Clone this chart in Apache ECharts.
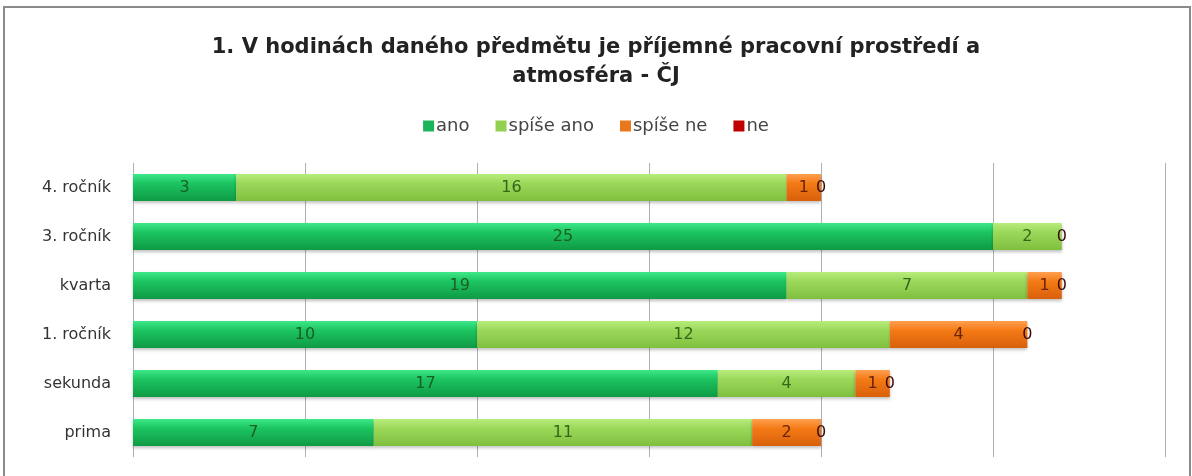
<!DOCTYPE html>
<html><head><meta charset="utf-8">
<script src="https://cdn.jsdelivr.net/npm/echarts@6/dist/echarts.min.js"></script>
<style>html,body{margin:0;padding:0;background:#fff}#c{width:1192px;height:476px}</style>
</head><body><div id="c"></div>
<script>
const categories = ['prima', 'sekunda', '1. ročník', 'kvarta', '3. ročník', '4. ročník'];
const ano       = [7, 17, 10, 19, 25, 3];
const spiseAno  = [11, 4, 12, 7, 2, 16];
const spiseNe   = [2, 1, 4, 1, null, 1];
const ne        = [0, 0, 0, 0, 0, 0];
const seriesNames = ['ano', 'spíše ano', 'spíše ne', 'ne'];

function grad(top, mid, bot) {
  return new echarts.graphic.LinearGradient(0, 0, 0, 1, [
    {offset: 0, color: top}, {offset: 0.35, color: mid}, {offset: 1, color: bot}
  ]);
}
const styles = [
  {c: grad('#3ee88a', '#1cc460', '#0f9a45'), lc: '#1b5e24', leg: '#1cb45a'},
  {c: grad('#b8ec7c', '#9bd85a', '#7fbf3e'), lc: '#35661a', leg: '#92d050'},
  {c: grad('#ffa050', '#f47a16', '#d8600a'), lc: '#6a2406', leg: '#e8781c'},
  {c: grad('#e84040', '#c81010', '#a00000'), lc: '#3a0a0a', leg: '#c00000'}
];
const dataSets = [ano, spiseAno, spiseNe, ne];
const FONT = '"DejaVu Sans", "Open Sans", sans-serif';

const chart = echarts.init(document.getElementById('c'));
chart.setOption({
  animation: false,
  textStyle: {fontFamily: FONT},
  title: {
    text: '1. V hodinách daného předmětu je příjemné pracovní prostředí a\natmosféra - ČJ',
    left: 'center', top: 28,
    textStyle: {fontFamily: FONT, fontSize: 21, fontWeight: 'bold', color: '#222', lineHeight: 29}
  },
  legend: {
    top: 112, left: 'center', itemWidth: 11, itemHeight: 11, itemGap: 26,
    icon: 'rect',
    textStyle: {fontFamily: FONT, fontSize: 18, color: '#444', padding: [0,0,0,-3]},
    data: seriesNames.map((n, i) => ({name: n, itemStyle: {color: styles[i].leg}}))
  },
  grid: {left: 133, right: 27, top: 163, bottom: 19, containLabel: false},
  xAxis: {
    type: 'value', min: 0, max: 30, interval: 5,
    axisLabel: {show: false}, axisLine: {show: false}, axisTick: {show: false},
    splitLine: {lineStyle: {color: '#b0b0b0', width: 1}}
  },
  yAxis: {
    type: 'category', data: categories,
    axisLine: {show: false}, axisTick: {show: false},
    axisLabel: {fontFamily: FONT, fontSize: 16, color: '#333', margin: 22}
  },
  graphic: [{
    type: 'rect', shape: {x: 4, y: 7, width: 1186, height: 480},
    style: {fill: 'none', stroke: '#8a8a8a', lineWidth: 2}, silent: true, z: 100
  }],
  series: dataSets.map((d, i) => ({
    name: seriesNames[i], type: 'bar', stack: 'total', data: d,
    barWidth: 27,
    itemStyle: {color: styles[i].c, shadowColor: 'rgba(0,0,0,0.25)', shadowBlur: 3, shadowOffsetY: 2},
    label: {show: true, position: 'inside', fontFamily: FONT, fontSize: 16, color: styles[i].lc}
  }))
});
</script></body></html>
